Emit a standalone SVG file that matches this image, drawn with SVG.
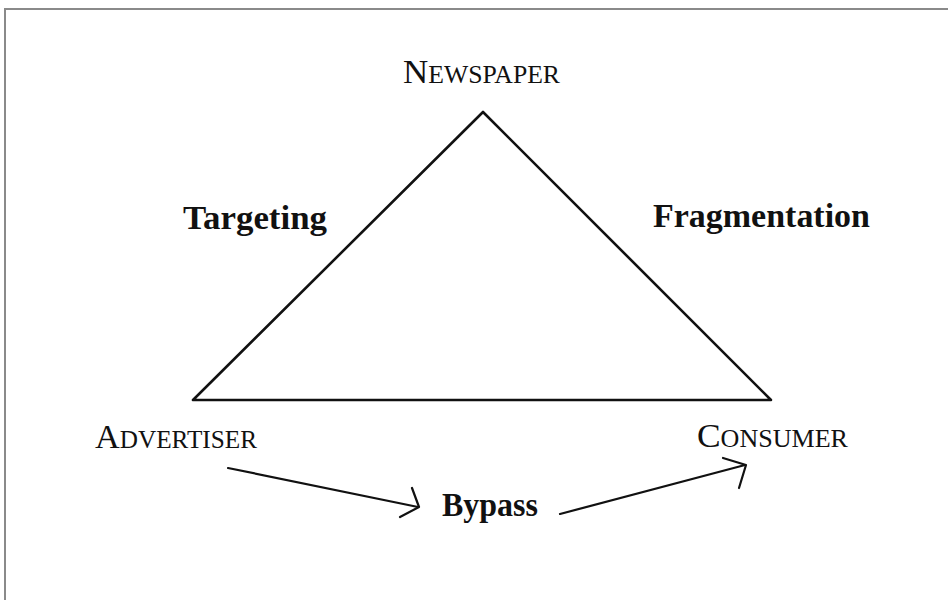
<svg xmlns="http://www.w3.org/2000/svg" width="948" height="600" viewBox="0 0 948 600">
<style>
.sc{font-family:"Liberation Serif","Times New Roman",serif;fill:#111}
.b{font-family:"Liberation Serif","Times New Roman",serif;font-weight:bold;fill:#111}
.ln{fill:none;stroke:#111;stroke-width:2.2;stroke-linecap:round;stroke-linejoin:round}
</style>
<rect x="0" y="0" width="948" height="600" fill="#fff"/>
<rect x="5" y="9" width="1000" height="700" fill="none" stroke="#8a8a8a" stroke-width="2"/>
<g id="connectors">
<polygon class="ln" points="483,112 193,400 771,400" style="stroke-width:2.6"/>
<line class="ln" x1="228" y1="468" x2="418" y2="507"/>
<polyline class="ln" points="412,488 419,507 400,517"/>
<line class="ln" x1="560" y1="514" x2="745" y2="465"/>
<polyline class="ln" points="723,458 746,465 739,488"/>
</g>
<g id="newspaper"><text class="sc" x="403" y="83" textLength="157" lengthAdjust="spacingAndGlyphs"><tspan font-size="34">N</tspan><tspan font-size="25">EWSPAPER</tspan></text></g>
<g id="advertiser"><text class="sc" x="95" y="448" textLength="162" lengthAdjust="spacingAndGlyphs"><tspan font-size="34">A</tspan><tspan font-size="25">DVERTISER</tspan></text></g>
<g id="consumer"><text class="sc" x="697" y="447" textLength="151" lengthAdjust="spacingAndGlyphs"><tspan font-size="34">C</tspan><tspan font-size="25">ONSUMER</tspan></text></g>
<g id="targeting"><text class="b" x="183" y="229" font-size="34" textLength="144" lengthAdjust="spacingAndGlyphs">Targeting</text></g>
<g id="fragmentation"><text class="b" x="653" y="227" font-size="34" textLength="217" lengthAdjust="spacingAndGlyphs">Fragmentation</text></g>
<g id="bypass"><text class="b" x="442" y="516" font-size="33" textLength="96" lengthAdjust="spacingAndGlyphs">Bypass</text></g>
</svg>
